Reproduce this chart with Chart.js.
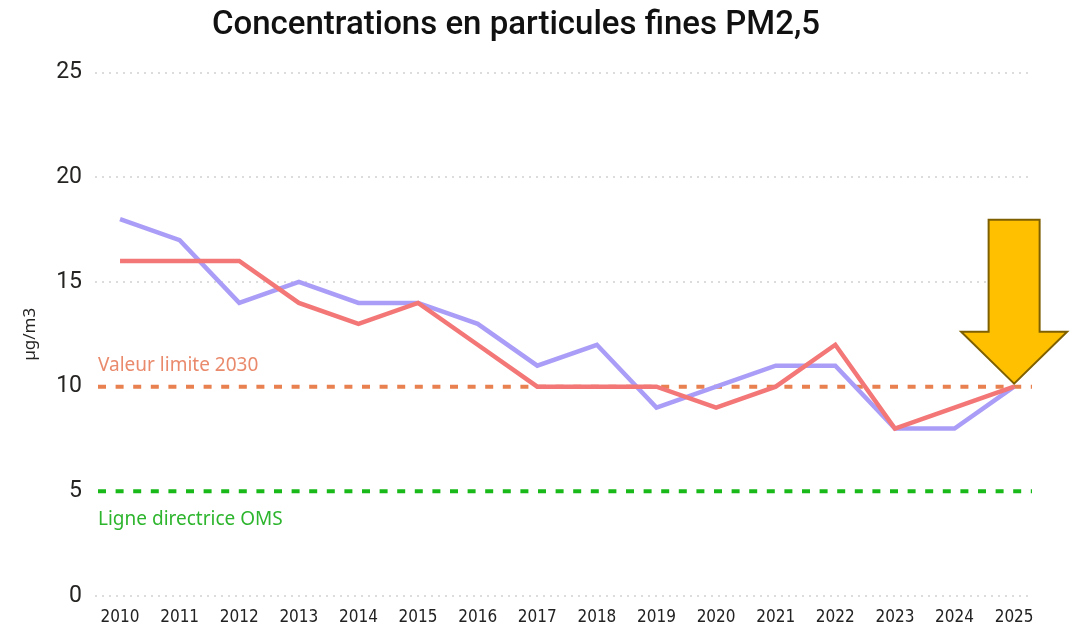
<!DOCTYPE html>
<html lang="fr">
<head>
<meta charset="utf-8">
<title>Concentrations en particules fines PM2,5</title>
<script src="https://cdn.jsdelivr.net/npm/chart.js@4/dist/chart.umd.min.js"></script>
<style>
  html, body { margin: 0; padding: 0; background: #fff; }
  #wrap { width: 1076px; height: 630px; }
</style>
</head>
<body>
<div id="wrap"><canvas id="pm25-chart" width="1076" height="630"></canvas></div>
<script>
// ─── Data ─────────────────────────────────────────────────────────────────────
const years = [2010, 2011, 2012, 2013, 2014, 2015, 2016, 2017, 2018, 2019, 2020, 2021, 2022, 2023, 2024, 2025];
const serieViolette = [18, 17, 14, 15, 14, 14, 13, 11, 12, 9, 10, 11, 11, 8, 8, 10];
const serieRouge    = [16, 16, 16, 14, 13, 14, 12, 10, 10, 10, 9, 10, 12, 8, 9, 10];
const yTicks = [0, 5, 10, 15, 20, 25];

const VALEUR_LIMITE_2030 = 10;
const LIGNE_OMS = 5;

const FONT = "'Noto Sans', 'DejaVu Sans', sans-serif";
const NARROW = "'Liberation Sans Narrow', 'DejaVu Sans Condensed', 'Roboto', sans-serif";

// Threshold lines, their labels and the arrow pointing at the last year
const annotations = {
  id: 'annotations',
  beforeDatasetsDraw(chart) {
    const { ctx, chartArea, scales: { y } } = chart;
    const lines = [
      { value: VALEUR_LIMITE_2030, color: '#e8804f', text: 'Valeur limite 2030', textColor: '#ea8a6c', above: true },
      { value: LIGNE_OMS, color: '#19b919', text: 'Ligne directrice OMS', textColor: '#2db52d', above: false },
    ];
    ctx.save();
    lines.forEach(l => {
      const py = y.getPixelForValue(l.value);
      ctx.strokeStyle = l.color;
      ctx.lineWidth = 4;
      ctx.setLineDash([8, 9.6]);
      ctx.beginPath();
      ctx.moveTo(chartArea.left + 3, py);
      ctx.lineTo(chartArea.right, py);
      ctx.stroke();
      ctx.setLineDash([]);
      ctx.fillStyle = l.textColor;
      ctx.font = `19px ${FONT}`;
      ctx.textAlign = 'left';
      ctx.textBaseline = 'middle';
      ctx.fillText(l.text, chartArea.left + 3, l.above ? py - 21 : py + 28);
    });
    ctx.restore();
  },
  afterDraw(chart) {
    const { ctx, scales: { x, y } } = chart;
    const tipX = x.getPixelForValue(years[years.length - 1]);
    const tipY = y.getPixelForValue(serieRouge[serieRouge.length - 1]) - 3;
    const headH = 52, headW = 53, shaftW = 25.5, totalH = 164;
    ctx.save();
    ctx.beginPath();
    ctx.moveTo(tipX, tipY);
    ctx.lineTo(tipX - headW, tipY - headH);
    ctx.lineTo(tipX - shaftW, tipY - headH);
    ctx.lineTo(tipX - shaftW, tipY - totalH);
    ctx.lineTo(tipX + shaftW, tipY - totalH);
    ctx.lineTo(tipX + shaftW, tipY - headH);
    ctx.lineTo(tipX + headW, tipY - headH);
    ctx.closePath();
    ctx.fillStyle = '#ffc000';
    ctx.fill();
    ctx.strokeStyle = '#7f6000';
    ctx.lineWidth = 2;
    ctx.stroke();
    ctx.restore();
  },
};

const ctx = document.getElementById('pm25-chart').getContext('2d');

new Chart(ctx, {
  type: 'line',
  data: {
    datasets: [
      {
        label: 'Série rouge',
        data: years.map((yr, i) => ({ x: yr, y: serieRouge[i] })),
        borderColor: '#f47777',
        borderWidth: 4.5,
        pointRadius: 0,
        tension: 0,
        order: 0,
      },
      {
        label: 'Série violette',
        data: years.map((yr, i) => ({ x: yr, y: serieViolette[i] })),
        borderColor: '#aa9df7',
        borderWidth: 4.5,
        pointRadius: 0,
        tension: 0,
        order: 1,
      },
    ],
  },
  options: {
    responsive: false,
    animation: false,
    layout: { padding: { left: 0, right: 44, top: 0, bottom: 0 } },
    plugins: {
      legend: { display: false },
      tooltip: { enabled: false },
      title: {
        display: true,
        text: 'Concentrations en particules fines PM2,5',
        color: '#111',
        font: { family: "'Roboto', sans-serif", size: 33, weight: '500' },
        padding: { top: 6, bottom: 27 },
      },
    },
    scales: {
      x: {
        type: 'linear',
        min: years[0] - 0.42,
        max: years[years.length - 1] + 0.3,
        afterBuildTicks: (scale) => { scale.ticks = years.map(v => ({ value: v })); },
        afterFit: (scale) => { scale.height = 34; },
        grid: { display: false, drawTicks: false },
        border: { display: false },
        ticks: {
          color: '#222',
          padding: 11,
          maxRotation: 0,
          autoSkip: false,
          font: { family: NARROW, size: 17 },
          callback: (v) => String(v),
        },
      },
      y: {
        min: 0,
        max: 25,
        afterBuildTicks: (scale) => { scale.ticks = yTicks.map(v => ({ value: v })); },
        afterFit: (scale) => { scale.width = 95; },
        border: { display: false, dash: [2, 5] },
        grid: {
          // no dotted grid under the two threshold lines
          color: (c) => (c.tick && (c.tick.value === VALEUR_LIMITE_2030 || c.tick.value === LIGNE_OMS))
            ? 'rgba(0,0,0,0)' : '#dcdcdc',
          lineWidth: 2,
          drawTicks: false,
        },
        ticks: {
          color: '#252423',
          padding: 13,
          font: { family: "'Roboto', sans-serif", size: 23 },
        },
        title: {
          display: true,
          text: 'µg/m3',
          color: '#252423',
          font: { family: FONT, size: 17 },
          padding: { top: 20, bottom: 0 },
        },
      },
    },
  },
  plugins: [annotations],
});
</script>
</body>
</html>
